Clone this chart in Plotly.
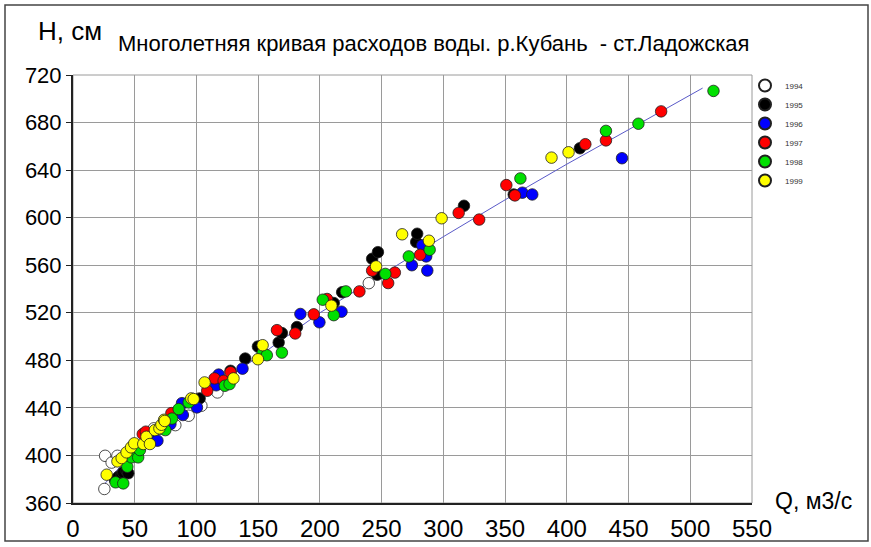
import plotly.graph_objects as go

# ---- data (Q, m3/s ; H, cm) ----
years = ["1994", "1995", "1996", "1997", "1998", "1999"]
colors = ["#ffffff", "#000000", "#0000ff", "#ff0000", "#00e000", "#ffff00"]

q_1994 = [25.4, 26, 31.3, 36, 51.5, 65.5, 69, 82.9, 93.7, 104, 117, 239.6]
h_1994 = [371.8, 399.7, 394, 399.7, 404.5, 422.8, 422, 425.5, 433.4, 441.8, 453, 544.9]

q_1995 = [34, 36.7, 39.4, 40.7, 43.4, 44.8, 102.6, 127.6, 139.5, 149.8, 166.6, 169.2,
          181.4, 211.2, 218, 242.3, 247, 246.4, 278, 278.8, 316.7, 357, 410.6]
h_1995 = [379.4, 382, 383.8, 385.8, 387, 385, 448, 471.2, 481.5, 491.6, 495, 502.9,
          508, 528.2, 537.3, 565.4, 571, 552, 579.5, 586.5, 610, 619.5, 658.4]

q_1996 = [63, 68.4, 78.9, 88.3, 89, 100.4, 116, 118, 137.3, 184.2, 199.6, 217.5,
          274.5, 282.9, 286.1, 287, 364, 372, 444.7]
h_1996 = [412.4, 412.4, 426.4, 444, 434, 440.4, 459, 468, 473, 519, 512, 520.9,
          560, 576.7, 567.4, 555.5, 621, 619.5, 650]

q_1997 = [56.5, 59, 79.7, 108.7, 114.7, 122, 127.6, 165.2, 180, 195, 205.8, 232,
          242.3, 255.3, 260.7, 281.2, 312.4, 329, 351, 358, 415, 431.7, 476.4]
h_1997 = [418, 420, 435.6, 454.4, 464.8, 462.8, 470, 505.4, 502.6, 518.7, 531.6, 538,
          555.5, 545, 553.8, 568.8, 604, 598.4, 627.4, 618.7, 661.8, 665, 689.4]

q_1998 = [34.5, 40.7, 44, 47.4, 52.8, 54.2, 74.8, 80.2, 85.6, 93.7, 123, 126.8,
          153.6, 157, 169.2, 202.3, 211.2, 221, 253, 272, 288.9, 362.4, 431.7, 458, 518.8]
h_1998 = [377.4, 376.5, 390.5, 398.4, 398.4, 404.5, 421.3, 431, 439, 444.6, 458.6, 460,
          486, 484.3, 486.5, 531, 518, 538, 552.7, 567.4, 573, 633, 673, 679, 706.6]

q_1999 = [27.3, 36, 39.4, 43.4, 47, 49.6, 56.9, 59.5, 62.3, 66.3, 70, 71.6, 73.8, 74.3,
          95.8, 97.7, 106.6, 130, 149.8, 153.6, 209.3, 245.5, 266.6, 288.3, 298.6, 387.6, 401.4]
h_1999 = [383.8, 395, 397.8, 402.6, 406.8, 410.2, 409.6, 415.7, 409.6, 421.3, 422.8, 425.8, 430, 429,
          448, 447.4, 461.4, 464.8, 480.9, 492.7, 526, 559, 586, 580.6, 599.5, 650.5, 655]

# rating curve
q_curve = [22, 50, 100, 150, 200, 250, 300, 350, 400, 450, 510]
h_curve = [372, 404, 447, 483, 520, 552, 584, 615, 645, 674, 709]

x_ticks = list(range(0, 551, 50))
y_ticks = list(range(360, 721, 40))

q_all = [q_1994, q_1995, q_1996, q_1997, q_1998, q_1999]
h_all = [h_1994, h_1995, h_1996, h_1997, h_1998, h_1999]

FONT = "Arial, Liberation Sans, sans-serif"

fig = go.Figure()
fig.add_trace(go.Scatter(x=q_curve, y=h_curve, mode="lines",
                         line=dict(color="#5a5ac8", width=1),
                         showlegend=False, hoverinfo="skip"))
for yr, col, qs, hs in zip(years, colors, q_all, h_all):
    fig.add_trace(go.Scatter(
        x=qs, y=hs, mode="markers", name=yr,
        marker=dict(size=11.5, color=col, line=dict(color="#202020", width=0.8)),
    ))

axis_common = dict(
    showgrid=True, gridcolor="#9a9a9a", gridwidth=1,
    showline=True, linecolor="#222222", linewidth=2,
    zeroline=False, automargin=False,
)
fig.update_xaxes(range=[0, 550], tickvals=x_ticks, ticks="", ticklabelstandoff=3,
                 tickfont=dict(family=FONT, size=24, color="#000000"), **axis_common)
fig.update_yaxes(range=[360, 720], tickvals=y_ticks, ticks="outside", ticklen=5,
                 tickcolor="#222222",
                 tickfont=dict(family=FONT, size=22, color="#000000"), **axis_common)

L, R, T, B = 73, 119, 75, 44
W, H = 871, 547
pw, ph = W - L - R, H - T - B

def px(xp):
    return (xp - L) / pw

def py(yp):
    return (H - B - yp) / ph

fig.update_layout(
    width=W, height=H,
    margin=dict(l=L, r=R, t=T, b=B, pad=0, autoexpand=False),
    paper_bgcolor="white", plot_bgcolor="white",
    font=dict(family=FONT, color="#000000"),
    legend=dict(x=px(745), y=py(71), xanchor="left", yanchor="top",
                font=dict(size=8, color="#333333"),
                bgcolor="rgba(0,0,0,0)", itemsizing="constant",
                tracegroupgap=0),
    shapes=[
        dict(type="rect", xref="paper", yref="paper", x0=0, y0=0, x1=1, y1=1,
             line=dict(color="#9a9a9a", width=1), layer="below"),
        dict(type="rect", xref="paper", yref="paper",
             x0=px(5), y0=py(541), x1=px(868), y1=py(5),
             line=dict(color="#444444", width=1.5)),
    ],
    annotations=[
        dict(text="H, см", xref="paper", yref="paper", x=px(36), y=py(31),
             xanchor="left", yanchor="middle", showarrow=False,
             font=dict(family=FONT, size=26, color="#000000")),
        dict(text="Многолетняя кривая расходов воды. р.Кубань  - ст.Ладожская",
             xref="paper", yref="paper", x=px(116), y=py(44),
             xanchor="left", yanchor="middle", showarrow=False,
             font=dict(family=FONT, size=22, color="#000000")),
        dict(text="Q, м3/с", xref="paper", yref="paper", x=px(773), y=py(501),
             xanchor="left", yanchor="middle", showarrow=False,
             font=dict(family=FONT, size=23, color="#000000")),
    ],
)

fig.write_html("out.html", config={"displayModeBar": False},
               post_script="document.body.style.margin='0';")
